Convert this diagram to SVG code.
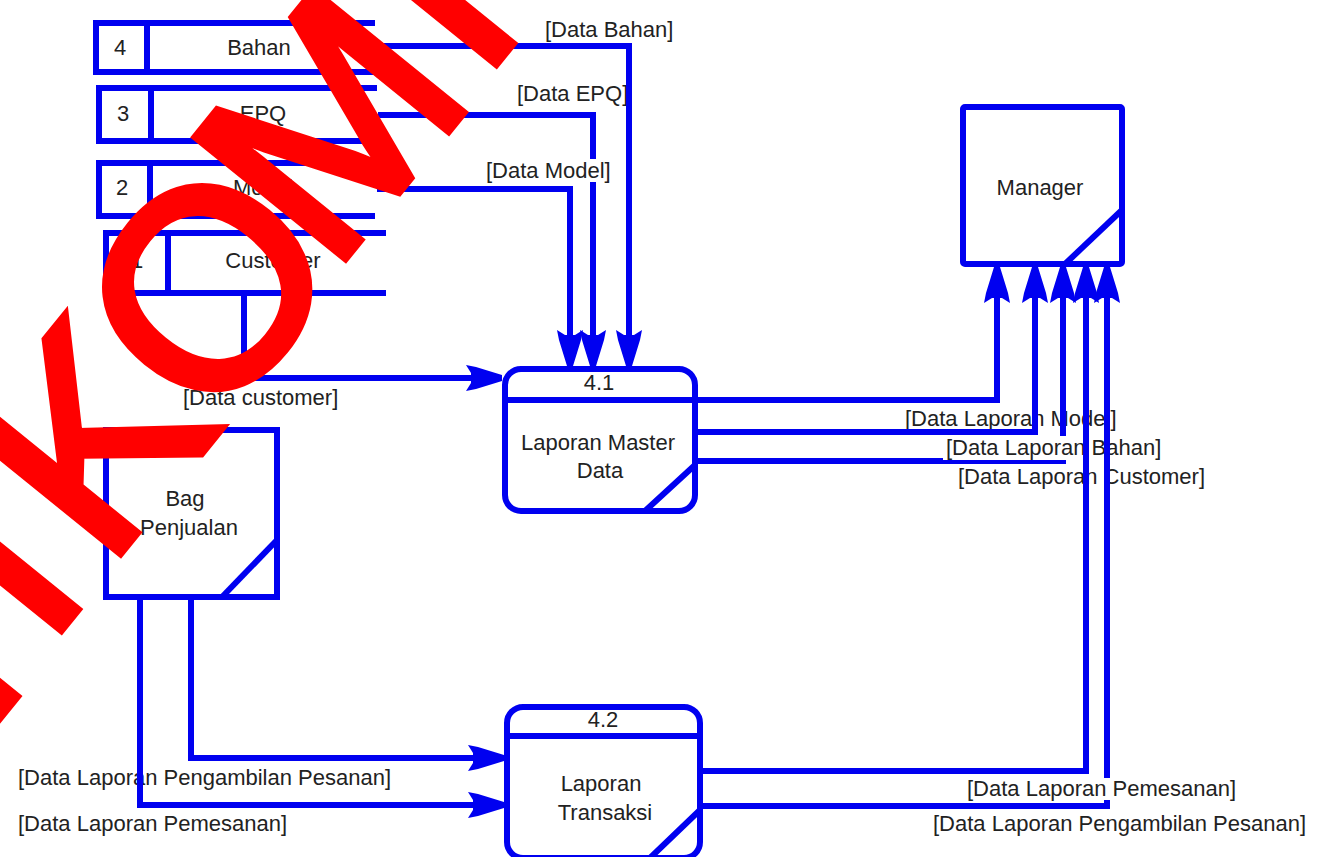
<svg xmlns="http://www.w3.org/2000/svg" width="1319" height="857" viewBox="0 0 1319 857">
  <style>
    .ln { fill: none; stroke: #0000f0; stroke-width: 6; stroke-linejoin: miter; }
    .box { fill: #ffffff; stroke: #0000f0; stroke-width: 6; }
    .st { fill: none; stroke: #0000f0; stroke-width: 6; }
    .t { font-family: "Liberation Sans", Arial, sans-serif; font-size: 22px; fill: #222222; }
    .c { text-anchor: middle; }
    .bg { fill: #ffffff; }
    .wm { font-family: "Liberation Sans", Arial, sans-serif; font-size: 280px; fill: #ff0000; stroke: #ff0000; stroke-width: 8; stroke-linejoin: miter; }
  </style>
  <defs>
    <marker id="arrow" viewBox="-40 -15 40 30" markerWidth="40" markerHeight="30" refX="0" refY="0" markerUnits="userSpaceOnUse" orient="auto">
      <path d="M0,-3 L-26,-11 L-36,-13 L-31,-5 L-31,5 L-36,13 L-26,11 L0,3 Z" fill="#0000f0"/>
    </marker>
  </defs>
  <rect width="1319" height="857" fill="#ffffff"/>

  <!-- data stores -->
  <g id="store-4">
    <path class="st" d="M375,23 H96 V72 H375 M147,23 V72"/>
    <text class="t c" x="120" y="55">4</text>
    <text class="t c" x="259" y="55">Bahan</text>
  </g>
  <g id="store-3">
    <path class="st" d="M377,88 H99 V141 H377 M151,88 V141"/>
    <text class="t c" x="123" y="121">3</text>
    <text class="t c" x="263" y="121">EPQ</text>
  </g>
  <g id="store-2">
    <path class="st" d="M375,163 H99 V216 H375 M150,163 V216"/>
    <text class="t c" x="122" y="195">2</text>
    <text class="t c" x="263" y="195">Model</text>
  </g>
  <g id="store-1">
    <path class="st" d="M386,233 H106 V293 H386 M168,233 V293"/>
    <text class="t c" x="137" y="268">1</text>
    <text class="t c" x="273" y="268">Customer</text>
  </g>

  <!-- processes -->
  <g id="process-4-1">
    <rect class="box" x="505" y="369" width="190" height="142" rx="16"/>
    <path class="st" d="M505,400 H695 M695,465 L645,511"/>
    <text class="t c" x="599" y="390">4.1</text>
    <text class="t c" x="598" y="450">Laporan Master</text>
    <text class="t c" x="600" y="478">Data</text>
  </g>
  <g id="process-4-2">
    <rect class="box" x="507" y="707" width="193" height="151" rx="16"/>
    <path class="st" d="M507,736 H700 M700,810 L650,858"/>
    <text class="t c" x="603" y="727">4.2</text>
    <text class="t c" x="601" y="791">Laporan</text>
    <text class="t c" x="605" y="820">Transaksi</text>
  </g>

  <!-- external entities -->
  <g id="manager">
    <rect class="box" x="963" y="107" width="159" height="157" rx="2"/>
    <path class="st" d="M1122,210 L1065,264"/>
    <text class="t c" x="1040" y="195">Manager</text>
  </g>
  <g id="bag-penjualan">
    <rect class="box" x="106" y="430" width="171" height="167"/>
    <path class="st" d="M277,540 L222,597"/>
    <text class="t c" x="185" y="506">Bag</text>
    <text class="t c" x="189" y="535">Penjualan</text>
  </g>

  <!-- data flows -->
  <g id="connectors">
    <path class="ln" d="M377,189 H570 V366" marker-end="url(#arrow)"/>
    <path class="ln" d="M378,115 H593 V366" marker-end="url(#arrow)"/>
    <rect class="bg" x="484" y="159" width="130" height="23"/>
    <text class="t" x="486" y="178">[Data Model]</text>
    <text class="t" x="517" y="101">[Data EPQ]</text>
    <path class="ln" d="M377,46 H629 V366" marker-end="url(#arrow)"/>
    <text class="t" x="545" y="37">[Data Bahan]</text>

    <path class="ln" d="M244,293 V378 H502" marker-end="url(#arrow)"/>
    <text class="t" x="183" y="405">[Data customer]</text>

    <text class="t" x="905" y="426">[Data Laporan Model]</text>
    <text class="t" x="958" y="484">[Data Laporan Customer]</text>
    <path class="ln" d="M695,400 H997 V267" marker-end="url(#arrow)"/>
    <path class="ln" d="M695,432 H1035 V267" marker-end="url(#arrow)"/>
    <path class="ln" d="M695,461 H1063 V267" marker-end="url(#arrow)"/>
    <rect class="bg" x="943" y="436" width="225" height="24"/>
    <text class="t" x="946" y="455">[Data Laporan Bahan]</text>
    <path class="ln" d="M700,771 H1086 V267" marker-end="url(#arrow)"/>
    <path class="ln" d="M700,806 H1107 V267" marker-end="url(#arrow)"/>
    <rect class="bg" x="964" y="778" width="279" height="22"/>
    <text class="t" x="967" y="796">[Data Laporan Pemesanan]</text>
    <text class="t" x="933" y="831">[Data Laporan Pengambilan Pesanan]</text>

    <text class="t" x="18" y="785">[Data Laporan Pengambilan Pesanan]</text>
    <text class="t" x="18" y="831">[Data Laporan Pemesanan]</text>
    <path class="ln" d="M191,597 V758 H504" marker-end="url(#arrow)"/>
    <path class="ln" d="M140,597 V805 H504" marker-end="url(#arrow)"/>
  </g>

  <!-- watermark -->
  <g id="watermark">
    <text class="wm" x="-96" y="836" transform="rotate(-51 -96 836)">N</text>
    <text class="wm" x="45" y="650" transform="rotate(-51 45 650)">I</text>
    <text class="wm" x="106" y="571" transform="rotate(-51 106 571)">K</text>
    <text class="wm" x="214" y="433" transform="rotate(-51 214 433)">O</text>
    <text class="wm" x="331" y="276" transform="rotate(-51 331 276)">M</text>
    <text class="wm" x="480" y="84" transform="rotate(-51 480 84)">I</text>
  </g>
</svg>
